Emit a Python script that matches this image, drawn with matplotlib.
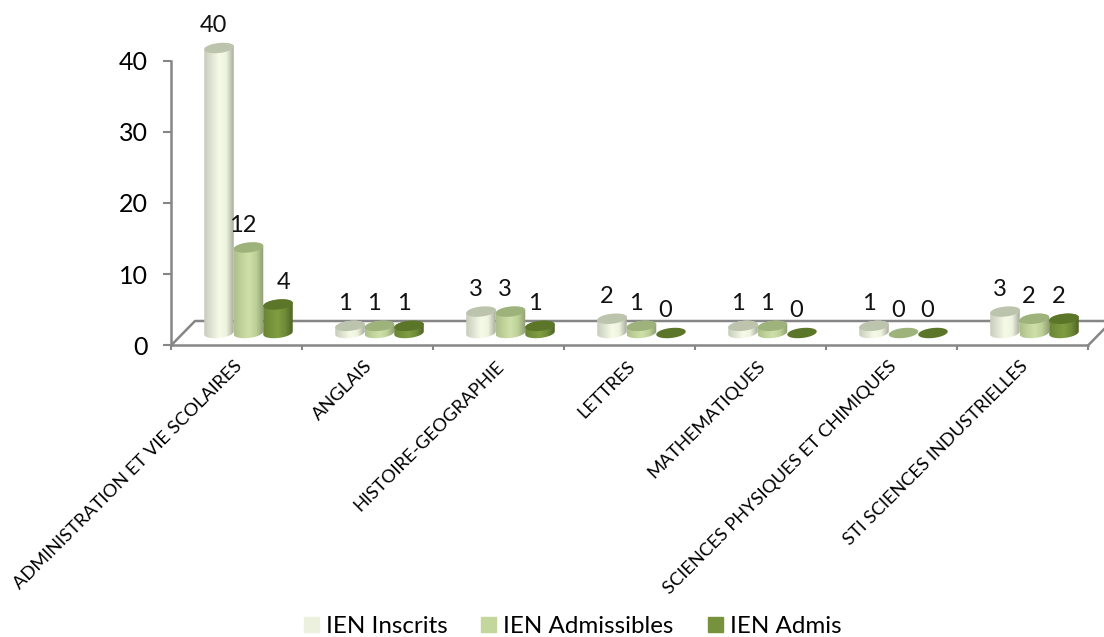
import numpy as np
import matplotlib
matplotlib.use('Agg')
import matplotlib.pyplot as plt
from matplotlib.colors import LinearSegmentedColormap
from matplotlib.patches import Patch, Polygon
from matplotlib.transforms import ScaledTranslation

categories = ['ADMINISTRATION ET VIE SCOLAIRES', 'ANGLAIS', 'HISTOIRE-GEOGRAPHIE', 'LETTRES',
              'MATHEMATIQUES', 'SCIENCES PHYSIQUES ET CHIMIQUES', 'STI SCIENCES INDUSTRIELLES']
inscrits = [40, 1, 3, 2, 1, 1, 3]
admissibles = [12, 1, 3, 1, 1, 0, 2]
admis = [4, 1, 1, 0, 0, 0, 2]
series_names = ['IEN Inscrits', 'IEN Admissibles', 'IEN Admis']
yticks = [0, 10, 20, 30, 40]

# couleurs : degrade du cylindre, dessus, legende
gradients = [['#c8ccbb', '#dfe4d2', '#f6fbe7', '#eef3df', '#a9ad9c'],
             ['#aebf8b', '#c0d39a', '#cfe1aa', '#bccf96', '#8d9c72'],
             ['#6a8435', '#76933c', '#7f9e41', '#6f8b38', '#4f6427']]
top_colors = ['#bcc4ae', '#9db37b', '#5b7529']
legend_colors = ['#ebf0df', '#c3d69b', '#76923c']

PX_X = 1 / 131.0    # un pixel en unites de categorie
PX_Y = 1 / 7.125    # un pixel en unites de valeur
bar_w = 29.5 * PX_X
shift_x = 12 * PX_X
base_y = 12.5 * PX_Y
depth_x = 24 * PX_X
depth_y = 24.5 * PX_Y
rx = bar_w / 2
ry = 5 * PX_Y
tilt = 1.5 * PX_Y

plt.rcParams['font.family'] = ['Lato', 'DejaVu Sans']
fig = plt.figure(figsize=(11.04, 6.37), dpi=100)
ax = fig.add_axes([171 / 1104, 1 - 345.5 / 637, 933 / 1104, 345.5 / 637])
ax.patch.set_alpha(0)
axis_color = '#868686'

# sol du graphique en perspective
ax.plot([0, depth_x, 7 + depth_x], [0, depth_y, depth_y], color=axis_color, lw=1.8, zorder=1)
ax.plot([7, 7 + depth_x], [0, depth_y], color=axis_color, lw=1.8, zorder=1)


def cylinder(xc, value, j):
    top = base_y + value
    t = np.linspace(0, 2 * np.pi, 60)
    ex = xc + rx * np.cos(t)
    lid = np.column_stack([ex, top + ry * np.sin(t) + tilt * np.cos(t)])
    if value > 0:
        t1 = np.linspace(0, np.pi, 30)
        t2 = np.linspace(np.pi, 2 * np.pi, 30)
        body = np.vstack([
            np.column_stack([xc + rx * np.cos(t1), top + ry * np.sin(t1) + tilt * np.cos(t1)]),
            np.column_stack([xc + rx * np.cos(t2), base_y + ry * np.sin(t2) + tilt * np.cos(t2)]),
        ])
        clip = Polygon(body, closed=True, transform=ax.transData, fc='none', ec='none')
        ax.add_patch(clip)
        cmap = LinearSegmentedColormap.from_list('cyl', gradients[j])
        im = ax.imshow(np.linspace(0, 1, 64).reshape(1, -1), cmap=cmap, aspect='auto',
                       extent=[xc - rx, xc + rx, base_y - 2 * ry, top + 2 * ry], zorder=3)
        im.set_clip_path(clip)
    ax.add_patch(Polygon(lid, closed=True, fc=top_colors[j], ec='none', zorder=4))


for j, vals in enumerate([inscrits, admissibles, admis]):
    for i, v in enumerate(vals):
        xc = i + 0.5 + shift_x + (j - 1) * bar_w
        cylinder(xc, v, j)
        dx = 6 if (i, j) == (0, 2) else -5.5
        ax.annotate(str(v), (xc, base_y + v), xytext=(dx, 22), textcoords='offset pixels',
                    ha='center', va='center', fontsize=17, color='#111111', zorder=5)

ax.set_xlim(0, 933 * PX_X)
ax.set_ylim(0, 345.5 * PX_Y)
for side in ['top', 'right']:
    ax.spines[side].set_visible(False)
ax.spines['left'].set_bounds(0, 40)
ax.spines['bottom'].set_bounds(0, 7)
for side in ['left', 'bottom']:
    ax.spines[side].set_color(axis_color)
    ax.spines[side].set_linewidth(1.8)

ax.set_yticks(yticks)
ax.tick_params(axis='y', length=5.8, width=1.5, color=axis_color, labelsize=18, pad=11)
ax.set_xticks(range(8))
ax.set_xticklabels([])
ax.tick_params(axis='x', which='major', length=3.5, width=1.5, color=axis_color)
ax.set_xticks(np.arange(7) + 0.5, minor=True)
ax.set_xticklabels(categories, minor=True, rotation=45, ha='right', rotation_mode='anchor', fontsize=13.2)
ax.tick_params(axis='x', which='minor', length=0, pad=9)
for lab in ax.get_xticklabels(minor=True):
    lab.set_transform(lab.get_transform() + ScaledTranslation(-3 / 100, 0, fig.dpi_scale_trans))

handles = [Patch(color=c) for c in legend_colors]
fig.legend(handles, series_names, loc='lower center', bbox_to_anchor=(0.5186, -0.034), ncol=3, frameon=False,
           fontsize=17.35, handlelength=0.62, handleheight=0.62, handletextpad=0.3, columnspacing=1.4)

fig.savefig('out.png', dpi=100)
